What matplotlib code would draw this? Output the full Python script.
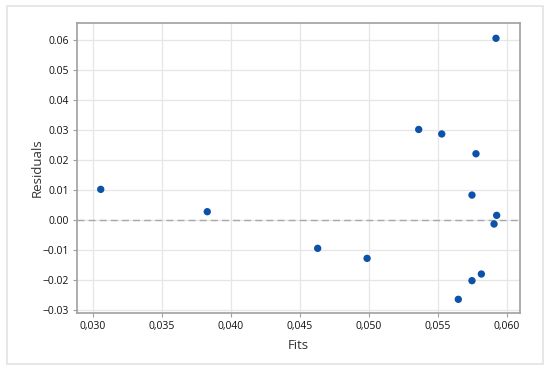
import matplotlib
matplotlib.use("Agg")
import matplotlib.pyplot as plt
from matplotlib.ticker import FuncFormatter, MultipleLocator
from matplotlib.patches import Rectangle

fits = [0.03056, 0.03828, 0.04628, 0.04986, 0.05360, 0.05527, 0.05647,
        0.05746, 0.05746, 0.05775, 0.05814, 0.05906, 0.05925, 0.05920]
residuals = [0.01023, 0.00278, -0.00944, -0.01278, 0.0302, 0.0287, -0.02644,
             0.00833, -0.02022, 0.0221, -0.018, -0.00133, 0.00156, 0.0606]

plt.rcParams['font.family'] = ['Open Sans', 'DejaVu Sans']

fig = plt.figure(figsize=(5.5, 3.7), dpi=100)
fig.patch.set_facecolor('white')
fig.add_artist(Rectangle((7/550, 1-364/370), 536/550, 358/370, transform=fig.transFigure,
                         fill=False, edgecolor='#e3e3e3', linewidth=1.2))

ax = fig.add_axes([77/550, 1-313/370, 443/550, 290/370])
ax.set_xlim(0.02884, 0.06094)
ax.set_ylim(-0.031, 0.0657)
ax.xaxis.set_major_locator(MultipleLocator(0.005))
ax.yaxis.set_major_locator(MultipleLocator(0.01))
ax.xaxis.set_major_formatter(FuncFormatter(lambda v, p: f"{v:.3f}".replace('.', ',')))
ax.yaxis.set_major_formatter(FuncFormatter(lambda v, p: f"{v:.2f}".replace('-', '\u2212')))
ax.grid(True, color='#e6e6e6', linewidth=0.9)
ax.set_axisbelow(True)
ax.axhline(0, color='#a8a8a8', linestyle=(0, (5, 3)), linewidth=1.0, zorder=1)
ax.scatter(fits, residuals, s=28, color='#0b52a8', zorder=3, edgecolors='none')

for s in ax.spines.values():
    s.set_color('#a0a0a0')
    s.set_linewidth(1.2)
ax.tick_params(axis='both', length=3, color='#a0a0a0', labelsize=7.5, labelcolor='#111111', pad=3)
ax.set_xlabel('Fits', fontsize=9.5, color='#333333', labelpad=5)
ax.set_ylabel('Residuals', fontsize=9.5, color='#333333', labelpad=-1)

fig.savefig('out.png', dpi=100)
